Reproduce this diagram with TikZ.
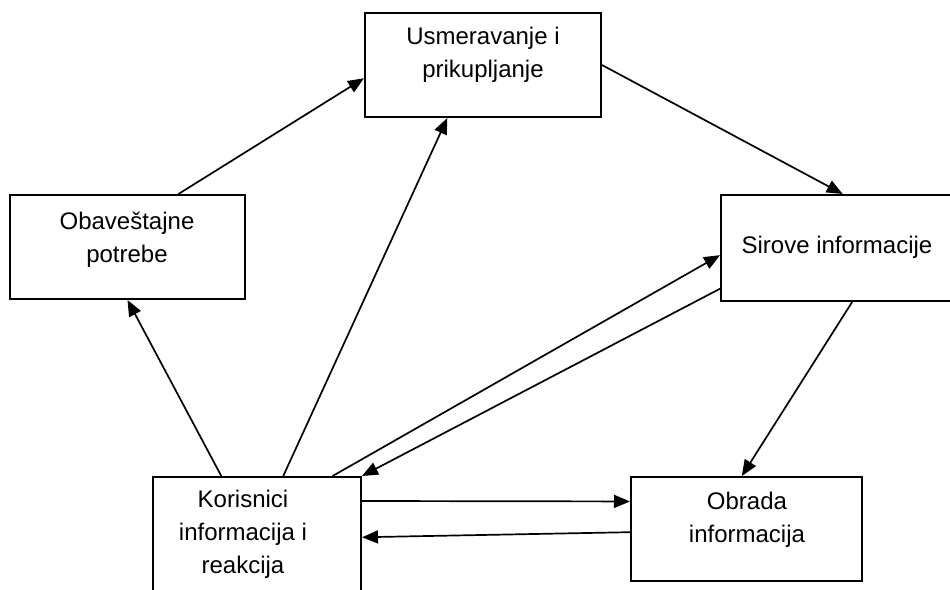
\documentclass[tikz,border=0pt]{standalone}
\usepackage{fontspec}
\setmainfont{Liberation Sans}
\usetikzlibrary{arrows.meta,calc}

\tikzset{
  okvir/.style={draw, line width=1pt, inner sep=0pt},
  tekst/.style={align=center, inner sep=0pt, font=\fontsize{12}{16.5}\selectfont},
  strelica/.style={line width=0.85pt, -{Triangle[length=8pt,width=6.5pt]}}
}

\begin{document}
\begin{tikzpicture}[x=0.5pt, y=-0.5pt]
		% 1. okvir slike
		\useasboundingbox (0,0) rectangle (950,590);
		\clip (0,0) rectangle (950,590);
		
		% 2. pravougaonici
		\node[okvir, minimum width=118pt, minimum height=52pt] (U) at (483,65) {};
		\node[okvir, minimum width=117.5pt, minimum height=52pt] (O) at (127.5,247) {};
		\node[okvir, minimum width=117pt, minimum height=53pt] (S) at (838,248) {};
		\node[okvir, minimum width=104pt, minimum height=61.5pt] (K) at (257,538.5) {};
		\node[okvir, minimum width=115.5pt, minimum height=52pt] (Ob) at (746.5,529) {};
		
		% 3. tekstovi
		\node[tekst] (Ut) at (483,55) {Usmeravanje i\\prikupljanje};
		\node[tekst] (Ot) at (127,240) {Obaveštajne\\potrebe};
		\node[tekst] (St) at (837,247) {Sirove informacije};
		\node[tekst] (Kt) at (243,534) {Korisnici\\informacija i\\reakcija};
		\node[tekst] (Obt) at (747,520) {Obrada\\informacija};
		
		% 4. strelice
		\draw[strelica] ($(O.north west)!.715!(O.north east)$) -- ($(U.north west)!.625!(U.south west)$);
		\draw[strelica] (U.east) -- ($(S.north west)!.52!(S.north east)$);
		\draw[strelica] ($(S.south west)!.56!(S.south east)$) -- ($(Ob.north west)!.48!(Ob.north east)$);
		\draw[strelica] ($(K.north west)!.33!(K.north east)$) -- (O.south);
		\draw[strelica] ($(K.north west)!.625!(K.north east)$) -- ($(U.south west)!.35!(U.south east)$);
		\draw[strelica] ($(K.north west)!.86!(K.north east)$) -- ($(S.north west)!.566!(S.south west)$);
		\draw[strelica] ($(S.north west)!.877!(S.south west)$) -- (K.north east);
		\draw[strelica] ($(K.north east)!.2!(K.south east)$) -- ($(Ob.north west)!.24!(Ob.south west)$);
		\draw[strelica] ($(Ob.north west)!.53!(Ob.south west)$) -- ($(K.north east)!.49!(K.south east)$);
	\end{tikzpicture}
\end{document}
